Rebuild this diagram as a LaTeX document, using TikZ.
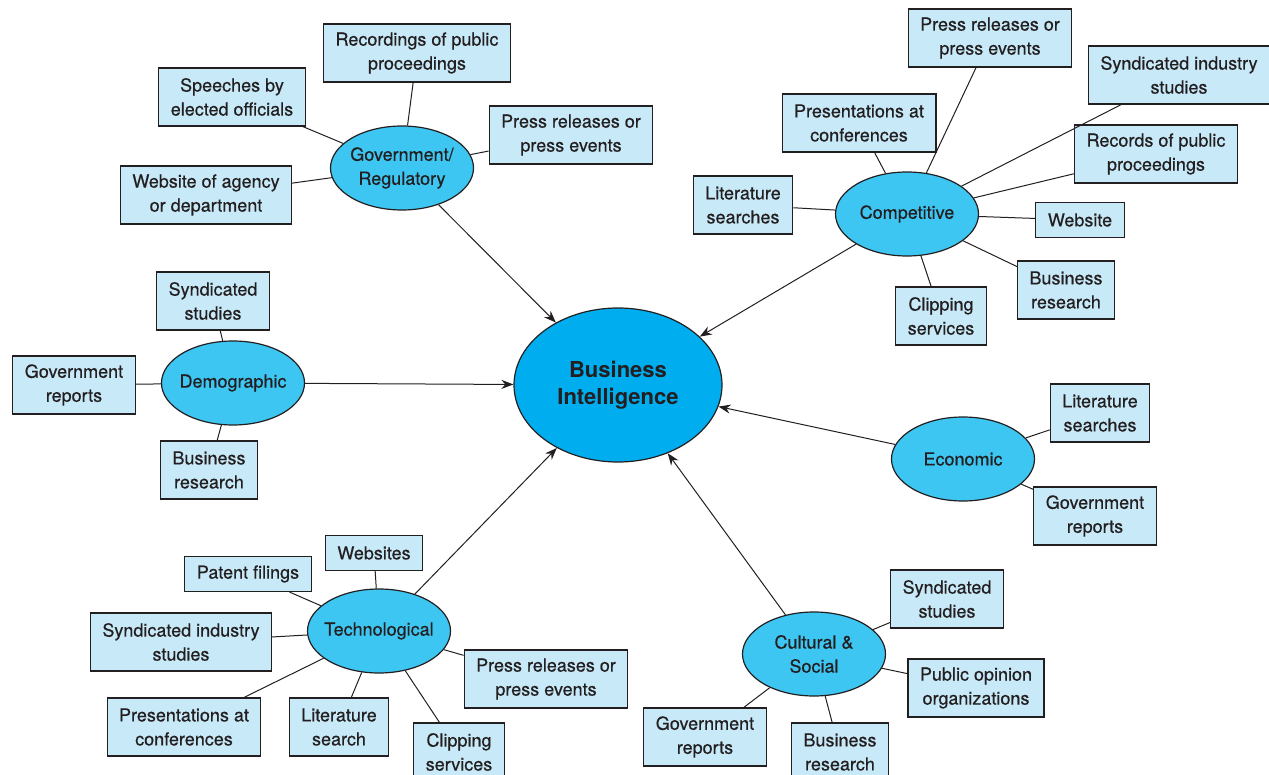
\documentclass[tikz,border=0pt]{standalone}
\usepackage{fontspec}
\setmainfont{TeX Gyre Heros}[UprightFeatures={FakeBold=0.5}]
\usetikzlibrary{shapes.geometric,arrows.meta}
\definecolor{ink}{HTML}{231F20}
\definecolor{bicyan}{HTML}{00AEEF}
\definecolor{subcyan}{HTML}{3EC6F3}
\definecolor{boxblue}{HTML}{C8E9F8}

\begin{document}
\begin{tikzpicture}[x=1pt, y=-1pt,
        every node/.style={text=ink, font=\fontsize{18}{24}\selectfont, align=center},
        src/.style={draw=ink, line width=1.1pt, fill=boxblue, inner xsep=12pt, inner ysep=2pt, minimum height=58pt},
        src1/.style={src, minimum height=35pt},
        area/.style={ellipse, draw=ink, line width=1.2pt, fill=subcyan, inner xsep=-5pt, inner ysep=0pt, minimum width=143pt, minimum height=84pt},
        link/.style={draw=ink, line width=1pt},
        feed/.style={draw=ink, line width=1pt, -{Stealth[length=12pt,width=9pt]}}]
        \useasboundingbox (0,0) rectangle (1269,775);

        % Centre
        \node [ellipse, draw=ink, line width=1.2pt, fill=bicyan, inner sep=0pt, minimum width=208pt, minimum height=154pt,
               font=\fontsize{22}{27}\selectfont\bfseries] (bi) at (618,385) {Business\\Intelligence};

        % Areas
        \node [area] (gov) at (402,168) {Government/\\Regulatory};
        \node [area] (demo) at (233,383) {Demographic};
        \node [area] (comp) at (907,214) {Competitive};
        \node [area] (econ) at (963,459) {Economic};
        \node [area] (tech) at (379,631) {Technological};
        \node [area] (cult) at (814,654) {Cultural \&\\Social};

        % Government/Regulatory sources
        \node [src] (g1) at (232,97) {Speeches by\\elected officials};
        \node [src] (g2) at (417,53) {Recordings of public\\proceedings};
        \node [src] (g3) at (571,135) {Press releases or\\press events};
        \node [src] (g4) at (206,195) {Website of agency\\or department};

        % Demographic sources
        \node [src] (d1) at (213,301) {Syndicated\\studies};
        \node [src] (d2) at (74,385) {Government\\reports};
        \node [src] (d3) at (209,470) {Business\\research};

        % Competitive sources
        \node [src] (c1) at (990,38) {Press releases or\\press events};
        \node [src] (c2) at (1179,75) {Syndicated industry\\studies};
        \node [src] (c3) at (859,123) {Presentations at\\conferences};
        \node [src] (c4) at (1156,154) {Records of public\\proceedings};
        \node [src] (c5) at (743,205) {Literature\\searches};
        \node [src1] (c6) at (1080,220) {Website};
        \node [src] (c7) at (1066,290) {Business\\research};
        \node [src] (c8) at (941,316) {Clipping\\services};

        % Economic sources
        \node [src] (e1) at (1100,413) {Literature\\searches};
        \node [src] (e2) at (1095,516) {Government\\reports};

        % Technological sources
        \node [src1] (t1) at (374,553) {Websites};
        \node [src1] (t2) at (248,574) {Patent filings};
        \node [src] (t3) at (181,642) {Syndicated industry\\studies};
        \node [src] (t4) at (184,727) {Presentations at\\conferences};
        \node [src] (t5) at (339,727) {Literature\\search};
        \node [src] (t6) at (459,752) {Clipping\\services};
        \node [src] (t7) at (546,679) {Press releases or\\press events};

        % Cultural & Social sources
        \node [src] (s1) at (947,599) {Syndicated\\studies};
        \node [src] (s2) at (976,688) {Public opinion\\organizations};
        \node [src] (s3) at (840,752) {Business\\research};
        \node [src] (s4) at (705,737) {Government\\reports};

        % Links
        \foreach \b in {g1,g2,g3,g4} \draw [link] (gov) -- (\b);
        \foreach \b in {d1,d2,d3} \draw [link] (demo) -- (\b);
        \foreach \b in {c1,c2,c3,c4,c5,c6,c7,c8} \draw [link] (comp) -- (\b);
        \foreach \b in {e1,e2} \draw [link] (econ) -- (\b);
        \foreach \b in {t1,t2,t3,t4,t5,t6,t7} \draw [link] (tech) -- (\b);
        \foreach \b in {s1,s2,s3,s4} \draw [link] (cult) -- (\b);

        % Arrows
        \foreach \a in {gov,demo,comp,econ,tech,cult} \draw [feed] (\a) -- (bi);
\end{tikzpicture}
\end{document}
